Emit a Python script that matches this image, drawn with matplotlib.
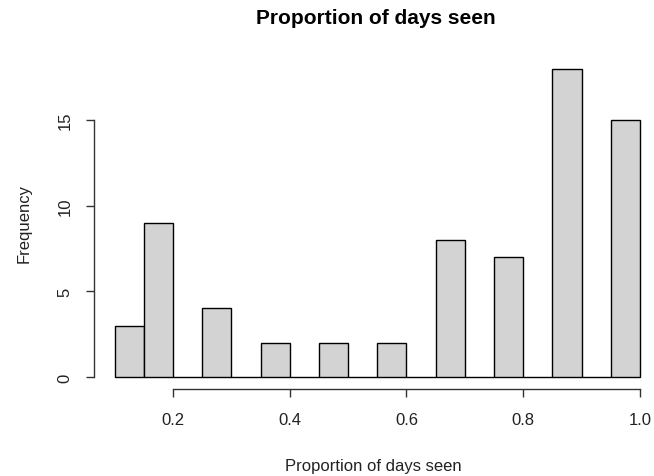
import numpy as np
import matplotlib.pyplot as plt

plt.rcParams['font.family'] = ['Liberation Sans', 'DejaVu Sans']

# histogram bins (width 0.05) and counts
bin_edges = [0.10, 0.15, 0.20, 0.25, 0.30, 0.35, 0.40, 0.45, 0.50, 0.55,
             0.60, 0.65, 0.70, 0.75, 0.80, 0.85, 0.90, 0.95, 1.00]
counts = [3, 9, 0, 4, 0, 2, 0, 2, 0, 2, 0, 8, 0, 7, 0, 18, 0, 15]
x_ticks = [0.2, 0.4, 0.6, 0.8, 1.0]
y_ticks = [0, 5, 10, 15]

fig = plt.figure(figsize=(6.54, 4.77), dpi=100)
W, H = 654, 477
left, right, top, bottom = 93.6, 654, 57.3, 390.3
ax = fig.add_axes([left / W, 1 - bottom / H, (right - left) / W, (bottom - top) / H])

edges = np.array(bin_edges)
ax.bar(edges[:-1], counts, width=np.diff(edges), align='edge',
       color='#d3d3d3', edgecolor='black', linewidth=1.0)

ax.set_xlim(0.064, 1.024)
ax.set_ylim(-0.72, 18.72)

for s in ['top', 'right']:
    ax.spines[s].set_visible(False)
ax.spines['bottom'].set_bounds(0.2, 1.0)
ax.spines['left'].set_bounds(0, 15)
for s in ['bottom', 'left']:
    ax.spines[s].set_color('#333333')
    ax.spines[s].set_linewidth(1.0)

ax.set_xticks(x_ticks)
ax.set_xticklabels(['0.2', '0.4', '0.6', '0.8', '1.0'])
ax.set_yticks(y_ticks)
ax.set_yticklabels([str(v) for v in y_ticks], rotation=90, va='center')
ax.tick_params(axis='both', length=6, width=1.0, color='#333333',
               labelsize=12, labelcolor='#222222')
ax.tick_params(axis='x', pad=10)
ax.tick_params(axis='y', pad=9)

ax.set_xlabel('Proportion of days seen', fontsize=12, color='#222222', labelpad=23)
ax.set_ylabel('Frequency', fontsize=12, color='#222222', labelpad=19)
fig.text(376 / W, 1 - 18 / H, 'Proportion of days seen', ha='center', va='center',
         fontsize=15, fontweight='bold')

fig.savefig('out.png', dpi=100)
